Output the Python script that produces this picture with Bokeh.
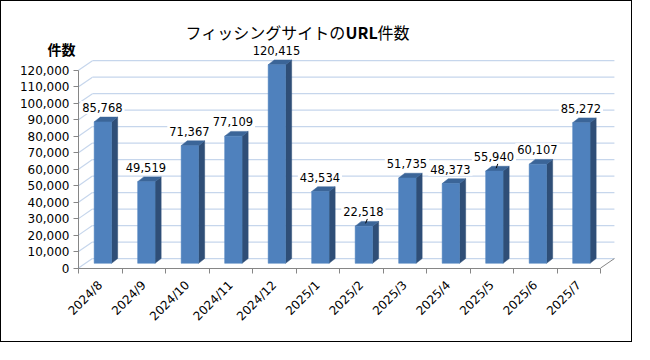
from math import pi
from bokeh.plotting import figure
from bokeh.models import (ColumnDataSource, Range1d, FixedTicker,
                          NumeralTickFormatter, Label)
from bokeh.core.properties import value
from bokeh.embed import file_html
from bokeh.resources import INLINE

# ---- data ----
months = ["2024/8", "2024/9", "2024/10", "2024/11", "2024/12", "2025/1",
          "2025/2", "2025/3", "2025/4", "2025/5", "2025/6", "2025/7"]
counts = [85768, 49519, 71367, 77109, 120415, 43534,
          22518, 51735, 48373, 55940, 60107, 85272]
y_ticks = [0, 10000, 20000, 30000, 40000, 50000, 60000,
           70000, 80000, 90000, 100000, 110000, 120000]
leader = [False, False, False, False, False, False,
          True, False, False, True, False, False]
title_parts = ["フィッシングサイトの", "URL", "件数"]
y_title = "件数"

# ---- 3D-ish geometry (style, in data units) ----
WALL_DX, WALL_DY = 0.32, 5800      # back-wall offset
FRONT_L, BAR_W = 0.36, 0.40        # bar front face within category
BAR_DY = 2900                      # bar front raised (mid-depth)
SIDE_DX, SIDE_DY = 0.14, 2900      # bar depth
LABEL_UP = 8700
FRONT_C, SIDE_C, TOP_C = "#4f81bd", "#2f4e77", "#3b6598"
GRID_C = "#c6d6ec"
AXIS_C = "#868686"
FONT = "DejaVu Sans"
JP = "Noto Sans CJK JP"

n = len(months)
W, H = 632, 342
# frame covers the whole canvas; axes are pinned at 0 with fixed_location
X0_PX, Y0_PX = 77.0, 266.6          # canvas position of the (0, 0) corner
CAT_PX, K_PX = 43.5, 1.649          # pixels per category / per 1000
p = figure(width=W, height=H, output_backend="svg", toolbar_location=None,
           x_range=Range1d(-X0_PX / CAT_PX, (W - X0_PX) / CAT_PX),
           y_range=Range1d(-(H - Y0_PX) / K_PX * 1000, Y0_PX / K_PX * 1000),
           min_border=0, min_border_left=0, min_border_right=0,
           min_border_top=0, min_border_bottom=0)
p.styles = {"border": "1px solid #000000"}
p.outline_line_color = None
p.xgrid.visible = False
p.ygrid.visible = False

# back wall gridlines + left wall diagonals
gx0 = [WALL_DX] * len(y_ticks)
gx1 = [n + WALL_DX] * len(y_ticks)
gy = [t + WALL_DY for t in y_ticks]
p.segment(gx0, gy, gx1, gy, line_color=GRID_C, line_width=1.2)
p.segment([0] * len(y_ticks), y_ticks, gx0, gy, line_color=GRID_C, line_width=1.2)
# floor right edge
p.segment([n], [0], [n + WALL_DX], [WALL_DY], line_color=AXIS_C, line_width=1)

# bars
fx0 = [i + FRONT_L for i in range(n)]
fx1 = [i + FRONT_L + BAR_W for i in range(n)]
ftop = [v + BAR_DY for v in counts]
src = ColumnDataSource(dict(
    x=[(a + b) / 2 for a, b in zip(fx0, fx1)],
    top=ftop, bottom=[BAR_DY] * n,
    side_x=[[b, b + SIDE_DX, b + SIDE_DX, b] for b in fx1],
    side_y=[[BAR_DY, BAR_DY + SIDE_DY, t + SIDE_DY, t] for t in ftop],
    top_x=[[a, a + SIDE_DX, b + SIDE_DX, b] for a, b in zip(fx0, fx1)],
    top_y=[[t, t + SIDE_DY, t + SIDE_DY, t] for t in ftop],
))
p.patches("side_x", "side_y", source=src, fill_color=SIDE_C, line_color=SIDE_C, line_width=0.5)
p.patches("top_x", "top_y", source=src, fill_color=TOP_C, line_color=TOP_C, line_width=0.5)
p.vbar(x="x", width=BAR_W, top="top", bottom="bottom", source=src,
       fill_color=FRONT_C, line_color=FRONT_C, line_width=0.5)

# leader lines
lx = [i + 0.55 for i in range(n)]
ly = [v + BAR_DY + LABEL_UP for v in counts]
l_x0 = [i + 0.60 for i in range(n) if leader[i]]
l_y0 = [counts[i] + BAR_DY + SIDE_DY * 0.6 for i in range(n) if leader[i]]
l_x1 = [i + 0.64 for i in range(n) if leader[i]]
l_y1 = [counts[i] + BAR_DY + LABEL_UP - 4300 for i in range(n) if leader[i]]
p.segment(l_x0, l_y0, l_x1, l_y1, line_color="#000000", line_width=1)

# value labels
lab = ColumnDataSource(dict(x=lx, y=ly, t=[f"{v:,}" for v in counts]))
p.text("x", "y", text="t", source=lab, text_align="center", text_baseline="middle",
       text_font=value(FONT), text_font_size="11.5px", text_color="#000000",
       background_fill_color="white", padding=2)

# axes
xa = p.xaxis[0]
xa.fixed_location = 0
xa.ticker = FixedTicker(ticks=[i + 0.5 for i in range(n)],
                        minor_ticks=list(range(n + 1)))
xa.major_label_overrides = {i + 0.5: m for i, m in enumerate(months)}
xa.major_label_orientation = pi / 4
xa.bounds = (0, n)
xa.axis_line_color = AXIS_C
xa.major_tick_out = 0
xa.major_tick_in = 0
xa.minor_tick_out = 5
xa.minor_tick_in = 0
xa.minor_tick_line_color = AXIS_C
xa.major_label_text_font = FONT
xa.major_label_text_font_size = "12px"
xa.major_label_text_color = "#000000"
xa.major_label_standoff = 10

ya = p.yaxis[0]
ya.fixed_location = 0
ya.ticker = FixedTicker(ticks=y_ticks)
ya.formatter = NumeralTickFormatter(format="0,0")
ya.bounds = (0, y_ticks[-1])
ya.axis_line_color = AXIS_C
ya.major_tick_out = 5
ya.major_tick_in = 0
ya.major_tick_line_color = AXIS_C
ya.minor_tick_out = 0
ya.minor_tick_in = 0
ya.major_label_text_font = FONT
ya.major_label_text_font_size = "12px"
ya.major_label_text_color = "#000000"
ya.major_label_standoff = 4

# titles (screen units: from frame left / frame bottom; frame == canvas)
TY = H - 30
p.add_layout(Label(x=344, y=TY, x_units="screen", y_units="screen", text=title_parts[0],
                   text_align="right", text_baseline="middle",
                   text_font=JP, text_font_size="16px", text_color="#000000"))
p.add_layout(Label(x=344, y=TY, x_units="screen", y_units="screen", text=title_parts[1],
                   text_align="left", text_baseline="middle", text_font_style="bold",
                   text_font=JP, text_font_size="16px", text_color="#000000"))
p.add_layout(Label(x=376, y=TY, x_units="screen", y_units="screen", text=title_parts[2],
                   text_align="left", text_baseline="middle",
                   text_font=JP, text_font_size="16px", text_color="#000000"))
p.add_layout(Label(x=60, y=H - 47, x_units="screen", y_units="screen", text=y_title,
                   text_align="center", text_baseline="middle", text_font_style="bold",
                   text_font=JP, text_font_size="14px", text_color="#000000"))

open("out.html", "w").write(file_html(p, INLINE))
